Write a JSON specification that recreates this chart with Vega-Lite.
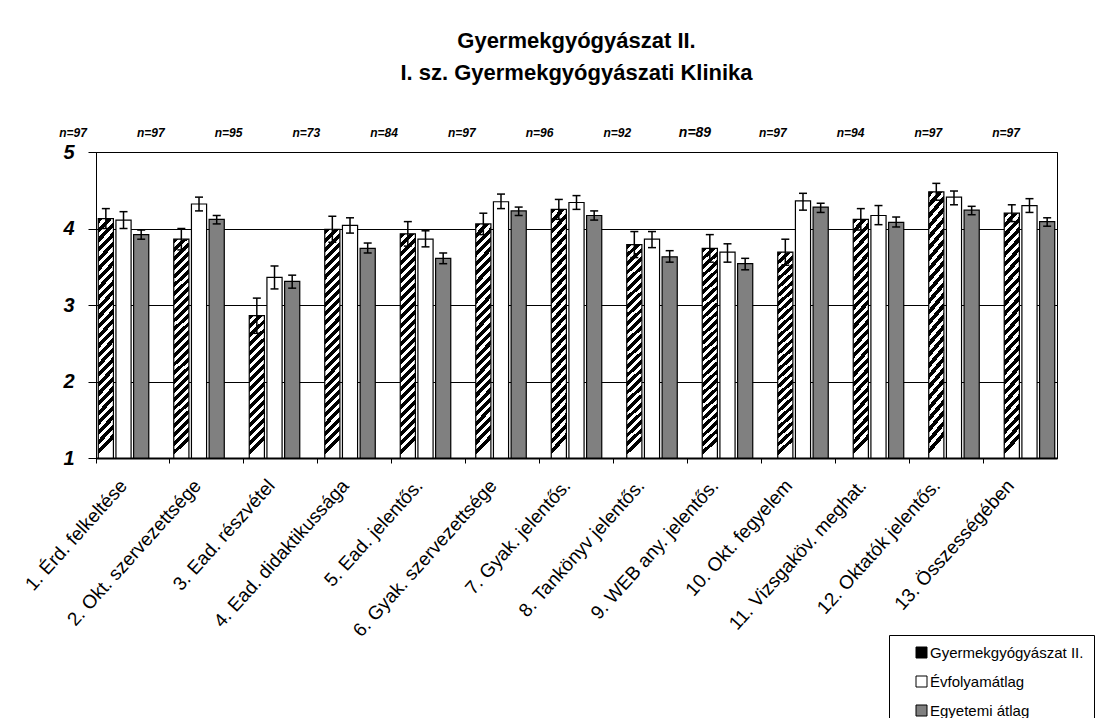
{
  "$schema": "https://vega.github.io/schema/vega-lite/v6.json",
  "width": 961,
  "height": 306,
  "autosize": {"type": "none"},
  "padding": {"left": 96, "top": 152, "right": 53, "bottom": 260},
  "background": "white",
  "title": {
    "text": ["Gyermekgyógyászat II.", "I. sz. Gyermekgyógyászati Klinika"],
    "font": "Liberation Sans",
    "fontSize": 22,
    "fontWeight": "bold",
    "color": "black",
    "anchor": "middle",
    "frame": "group",
    "lineHeight": 32,
    "offset": 41
  },
  "datasets": {
    "bars": [
      {"cat": "1. Érd. felkeltése", "series": "Gyermekgyógyászat II.", "value": 4.13, "lo": 4.0, "hi": 4.26},
      {"cat": "1. Érd. felkeltése", "series": "Évfolyamátlag", "value": 4.11, "lo": 4.0, "hi": 4.22},
      {"cat": "1. Érd. felkeltése", "series": "Egyetemi átlag", "value": 3.92, "lo": 3.86, "hi": 3.98},
      {"cat": "2. Okt. szervezettsége", "series": "Gyermekgyógyászat II.", "value": 3.86, "lo": 3.72, "hi": 4.0},
      {"cat": "2. Okt. szervezettsége", "series": "Évfolyamátlag", "value": 4.32, "lo": 4.23, "hi": 4.41},
      {"cat": "2. Okt. szervezettsége", "series": "Egyetemi átlag", "value": 4.12, "lo": 4.06, "hi": 4.17},
      {"cat": "3. Ead. részvétel", "series": "Gyermekgyógyászat II.", "value": 2.86, "lo": 2.63, "hi": 3.09},
      {"cat": "3. Ead. részvétel", "series": "Évfolyamátlag", "value": 3.36, "lo": 3.21, "hi": 3.51},
      {"cat": "3. Ead. részvétel", "series": "Egyetemi átlag", "value": 3.31, "lo": 3.22, "hi": 3.39},
      {"cat": "4. Ead. didaktikussága", "series": "Gyermekgyógyászat II.", "value": 3.99, "lo": 3.82, "hi": 4.16},
      {"cat": "4. Ead. didaktikussága", "series": "Évfolyamátlag", "value": 4.04, "lo": 3.94, "hi": 4.14},
      {"cat": "4. Ead. didaktikussága", "series": "Egyetemi átlag", "value": 3.74, "lo": 3.68, "hi": 3.81},
      {"cat": "5. Ead. jelentős.", "series": "Gyermekgyógyászat II.", "value": 3.93, "lo": 3.77, "hi": 4.09},
      {"cat": "5. Ead. jelentős.", "series": "Évfolyamátlag", "value": 3.86, "lo": 3.76, "hi": 3.97},
      {"cat": "5. Ead. jelentős.", "series": "Egyetemi átlag", "value": 3.61, "lo": 3.54, "hi": 3.68},
      {"cat": "6. Gyak. szervezettsége", "series": "Gyermekgyógyászat II.", "value": 4.06, "lo": 3.92, "hi": 4.2},
      {"cat": "6. Gyak. szervezettsége", "series": "Évfolyamátlag", "value": 4.35, "lo": 4.26, "hi": 4.45},
      {"cat": "6. Gyak. szervezettsége", "series": "Egyetemi átlag", "value": 4.23, "lo": 4.17, "hi": 4.28},
      {"cat": "7. Gyak. jelentős.", "series": "Gyermekgyógyászat II.", "value": 4.25, "lo": 4.12, "hi": 4.38},
      {"cat": "7. Gyak. jelentős.", "series": "Évfolyamátlag", "value": 4.34, "lo": 4.25, "hi": 4.43},
      {"cat": "7. Gyak. jelentős.", "series": "Egyetemi átlag", "value": 4.17, "lo": 4.11, "hi": 4.23},
      {"cat": "8. Tankönyv jelentős.", "series": "Gyermekgyógyászat II.", "value": 3.79, "lo": 3.62, "hi": 3.96},
      {"cat": "8. Tankönyv jelentős.", "series": "Évfolyamátlag", "value": 3.86, "lo": 3.75, "hi": 3.96},
      {"cat": "8. Tankönyv jelentős.", "series": "Egyetemi átlag", "value": 3.63, "lo": 3.56, "hi": 3.71},
      {"cat": "9. WEB any. jelentős.", "series": "Gyermekgyógyászat II.", "value": 3.74, "lo": 3.56, "hi": 3.92},
      {"cat": "9. WEB any. jelentős.", "series": "Évfolyamátlag", "value": 3.69, "lo": 3.56, "hi": 3.8},
      {"cat": "9. WEB any. jelentős.", "series": "Egyetemi átlag", "value": 3.54, "lo": 3.46, "hi": 3.61},
      {"cat": "10. Okt. fegyelem", "series": "Gyermekgyógyászat II.", "value": 3.69, "lo": 3.52, "hi": 3.86},
      {"cat": "10. Okt. fegyelem", "series": "Évfolyamátlag", "value": 4.36, "lo": 4.24, "hi": 4.46},
      {"cat": "10. Okt. fegyelem", "series": "Egyetemi átlag", "value": 4.28, "lo": 4.21, "hi": 4.33},
      {"cat": "11. Vizsgaköv. meghat.", "series": "Gyermekgyógyászat II.", "value": 4.12, "lo": 3.98, "hi": 4.26},
      {"cat": "11. Vizsgaköv. meghat.", "series": "Évfolyamátlag", "value": 4.17, "lo": 4.05, "hi": 4.3},
      {"cat": "11. Vizsgaköv. meghat.", "series": "Egyetemi átlag", "value": 4.08, "lo": 4.02, "hi": 4.15},
      {"cat": "12. Oktatók jelentős.", "series": "Gyermekgyógyászat II.", "value": 4.48, "lo": 4.37, "hi": 4.59},
      {"cat": "12. Oktatók jelentős.", "series": "Évfolyamátlag", "value": 4.41, "lo": 4.31, "hi": 4.49},
      {"cat": "12. Oktatók jelentős.", "series": "Egyetemi átlag", "value": 4.24, "lo": 4.18, "hi": 4.29},
      {"cat": "13. Összességében", "series": "Gyermekgyógyászat II.", "value": 4.2, "lo": 4.09, "hi": 4.31},
      {"cat": "13. Összességében", "series": "Évfolyamátlag", "value": 4.3, "lo": 4.21, "hi": 4.39},
      {"cat": "13. Összességében", "series": "Egyetemi átlag", "value": 4.09, "lo": 4.03, "hi": 4.14}
    ],
    "cats": [
      {"cat": "1. Érd. felkeltése", "n": "n=97"},
      {"cat": "2. Okt. szervezettsége", "n": "n=97"},
      {"cat": "3. Ead. részvétel", "n": "n=95"},
      {"cat": "4. Ead. didaktikussága", "n": "n=73"},
      {"cat": "5. Ead. jelentős.", "n": "n=84"},
      {"cat": "6. Gyak. szervezettsége", "n": "n=97"},
      {"cat": "7. Gyak. jelentős.", "n": "n=96"},
      {"cat": "8. Tankönyv jelentős.", "n": "n=92"},
      {"cat": "9. WEB any. jelentős.", "n": "n=89"},
      {"cat": "10. Okt. fegyelem", "n": "n=97"},
      {"cat": "11. Vizsgaköv. meghat.", "n": "n=94"},
      {"cat": "12. Oktatók jelentős.", "n": "n=97"},
      {"cat": "13. Összességében", "n": "n=97"}
    ]
  },
  "layer": [
    {
      "data": {"name": "bars"},
      "encoding": {
        "x": {"field": "cat", "type": "nominal", "sort": null, "scale": {"type": "band", "paddingInner": 0.331, "paddingOuter": 0.03}, "axis": null},
        "xOffset": {"field": "series", "type": "nominal", "sort": null, "scale": {"paddingInner": 0.143, "paddingOuter": 0}}
      },
      "layer": [
        {
          "mark": {"type": "bar", "stroke": "black", "strokeWidth": 1.2},
          "encoding": {
            "y": {
              "field": "value", "type": "quantitative", "title": null,
              "scale": {"domain": [1, 5], "nice": false, "zero": false},
              "axis": {
                "values": [1, 2, 3, 4, 5],
                "format": "d",
                "title": null,
                "labelFont": "Liberation Sans",
                "labelFontSize": 20,
                "labelFontWeight": "bold",
                "labelFontStyle": "italic",
                "labelColor": "black",
                "labelPadding": 14,
                "tickSize": 8,
                "tickColor": "black",
                "domainColor": "black",
                "grid": true,
                "gridColor": "black",
                "gridOpacity": 1,
                "gridWidth": 1
              }
            },
            "y2": {"datum": 1},
            "fill": {
              "field": "series",
              "type": "nominal",
              "scale": {"domain": ["Gyermekgyógyászat II.", "Évfolyamátlag", "Egyetemi átlag"], "range": ["#000000", "#ffffff", "#808080"]},
              "legend": {
                "title": null,
                "orient": "none",
                "legendX": 793,
                "legendY": 483,
                "padding": 10,
                "symbolOffset": 15,
                "strokeColor": "black",
                "fillColor": "white",
                "labelFont": "Liberation Sans",
                "labelFontSize": 15,
                "labelColor": "black",
                "labelOffset": 1,
                "labelLimit": 400,
                "symbolType": "square",
                "symbolSize": 121,
                "symbolStrokeColor": "black",
                "symbolStrokeWidth": 1,
                "rowPadding": 13
              },
              "condition": [
                {
                  "test": "datum.series === 'Gyermekgyógyászat II.' && datum.value < 3",
                  "value": {"gradient": "linear", "x1": 0, "y1": 0, "x2": 0.106, "y2": 1, "stops": [
                    {"offset": 0, "color": "#000"}, {"offset": 0.034, "color": "#000"}, {"offset": 0.034, "color": "#fff"}, {"offset": 0.0625, "color": "#fff"},
                    {"offset": 0.0625, "color": "#000"}, {"offset": 0.0965, "color": "#000"}, {"offset": 0.0965, "color": "#fff"}, {"offset": 0.125, "color": "#fff"},
                    {"offset": 0.125, "color": "#000"}, {"offset": 0.159, "color": "#000"}, {"offset": 0.159, "color": "#fff"}, {"offset": 0.1875, "color": "#fff"},
                    {"offset": 0.1875, "color": "#000"}, {"offset": 0.2215, "color": "#000"}, {"offset": 0.2215, "color": "#fff"}, {"offset": 0.25, "color": "#fff"},
                    {"offset": 0.25, "color": "#000"}, {"offset": 0.284, "color": "#000"}, {"offset": 0.284, "color": "#fff"}, {"offset": 0.3125, "color": "#fff"},
                    {"offset": 0.3125, "color": "#000"}, {"offset": 0.3465, "color": "#000"}, {"offset": 0.3465, "color": "#fff"}, {"offset": 0.375, "color": "#fff"},
                    {"offset": 0.375, "color": "#000"}, {"offset": 0.409, "color": "#000"}, {"offset": 0.409, "color": "#fff"}, {"offset": 0.4375, "color": "#fff"},
                    {"offset": 0.4375, "color": "#000"}, {"offset": 0.4715, "color": "#000"}, {"offset": 0.4715, "color": "#fff"}, {"offset": 0.5, "color": "#fff"},
                    {"offset": 0.5, "color": "#000"}, {"offset": 0.534, "color": "#000"}, {"offset": 0.534, "color": "#fff"}, {"offset": 0.5625, "color": "#fff"},
                    {"offset": 0.5625, "color": "#000"}, {"offset": 0.5965, "color": "#000"}, {"offset": 0.5965, "color": "#fff"}, {"offset": 0.625, "color": "#fff"},
                    {"offset": 0.625, "color": "#000"}, {"offset": 0.659, "color": "#000"}, {"offset": 0.659, "color": "#fff"}, {"offset": 0.6875, "color": "#fff"},
                    {"offset": 0.6875, "color": "#000"}, {"offset": 0.7215, "color": "#000"}, {"offset": 0.7215, "color": "#fff"}, {"offset": 0.75, "color": "#fff"},
                    {"offset": 0.75, "color": "#000"}, {"offset": 0.784, "color": "#000"}, {"offset": 0.784, "color": "#fff"}, {"offset": 0.8125, "color": "#fff"},
                    {"offset": 0.8125, "color": "#000"}, {"offset": 0.8465, "color": "#000"}, {"offset": 0.8465, "color": "#fff"}, {"offset": 0.875, "color": "#fff"},
                    {"offset": 0.875, "color": "#000"}, {"offset": 0.909, "color": "#000"}, {"offset": 0.909, "color": "#fff"}, {"offset": 0.9375, "color": "#fff"},
                    {"offset": 0.9375, "color": "#000"}, {"offset": 0.9715, "color": "#000"}, {"offset": 0.9715, "color": "#fff"}, {"offset": 1, "color": "#fff"}
                  ]}
                },
                {
                  "test": "datum.series === 'Gyermekgyógyászat II.'",
                  "value": {"gradient": "linear", "x1": 0, "y1": 0, "x2": 0.067, "y2": 1, "stops": [
                    {"offset": 0, "color": "#000"}, {"offset": 0.022, "color": "#000"}, {"offset": 0.022, "color": "#fff"}, {"offset": 0.04, "color": "#fff"},
                    {"offset": 0.04, "color": "#000"}, {"offset": 0.062, "color": "#000"}, {"offset": 0.062, "color": "#fff"}, {"offset": 0.08, "color": "#fff"},
                    {"offset": 0.08, "color": "#000"}, {"offset": 0.102, "color": "#000"}, {"offset": 0.102, "color": "#fff"}, {"offset": 0.12, "color": "#fff"},
                    {"offset": 0.12, "color": "#000"}, {"offset": 0.142, "color": "#000"}, {"offset": 0.142, "color": "#fff"}, {"offset": 0.16, "color": "#fff"},
                    {"offset": 0.16, "color": "#000"}, {"offset": 0.182, "color": "#000"}, {"offset": 0.182, "color": "#fff"}, {"offset": 0.2, "color": "#fff"},
                    {"offset": 0.2, "color": "#000"}, {"offset": 0.222, "color": "#000"}, {"offset": 0.222, "color": "#fff"}, {"offset": 0.24, "color": "#fff"},
                    {"offset": 0.24, "color": "#000"}, {"offset": 0.262, "color": "#000"}, {"offset": 0.262, "color": "#fff"}, {"offset": 0.28, "color": "#fff"},
                    {"offset": 0.28, "color": "#000"}, {"offset": 0.302, "color": "#000"}, {"offset": 0.302, "color": "#fff"}, {"offset": 0.32, "color": "#fff"},
                    {"offset": 0.32, "color": "#000"}, {"offset": 0.342, "color": "#000"}, {"offset": 0.342, "color": "#fff"}, {"offset": 0.36, "color": "#fff"},
                    {"offset": 0.36, "color": "#000"}, {"offset": 0.382, "color": "#000"}, {"offset": 0.382, "color": "#fff"}, {"offset": 0.4, "color": "#fff"},
                    {"offset": 0.4, "color": "#000"}, {"offset": 0.422, "color": "#000"}, {"offset": 0.422, "color": "#fff"}, {"offset": 0.44, "color": "#fff"},
                    {"offset": 0.44, "color": "#000"}, {"offset": 0.462, "color": "#000"}, {"offset": 0.462, "color": "#fff"}, {"offset": 0.48, "color": "#fff"},
                    {"offset": 0.48, "color": "#000"}, {"offset": 0.502, "color": "#000"}, {"offset": 0.502, "color": "#fff"}, {"offset": 0.52, "color": "#fff"},
                    {"offset": 0.52, "color": "#000"}, {"offset": 0.542, "color": "#000"}, {"offset": 0.542, "color": "#fff"}, {"offset": 0.56, "color": "#fff"},
                    {"offset": 0.56, "color": "#000"}, {"offset": 0.582, "color": "#000"}, {"offset": 0.582, "color": "#fff"}, {"offset": 0.6, "color": "#fff"},
                    {"offset": 0.6, "color": "#000"}, {"offset": 0.622, "color": "#000"}, {"offset": 0.622, "color": "#fff"}, {"offset": 0.64, "color": "#fff"},
                    {"offset": 0.64, "color": "#000"}, {"offset": 0.662, "color": "#000"}, {"offset": 0.662, "color": "#fff"}, {"offset": 0.68, "color": "#fff"},
                    {"offset": 0.68, "color": "#000"}, {"offset": 0.702, "color": "#000"}, {"offset": 0.702, "color": "#fff"}, {"offset": 0.72, "color": "#fff"},
                    {"offset": 0.72, "color": "#000"}, {"offset": 0.742, "color": "#000"}, {"offset": 0.742, "color": "#fff"}, {"offset": 0.76, "color": "#fff"},
                    {"offset": 0.76, "color": "#000"}, {"offset": 0.782, "color": "#000"}, {"offset": 0.782, "color": "#fff"}, {"offset": 0.8, "color": "#fff"},
                    {"offset": 0.8, "color": "#000"}, {"offset": 0.822, "color": "#000"}, {"offset": 0.822, "color": "#fff"}, {"offset": 0.84, "color": "#fff"},
                    {"offset": 0.84, "color": "#000"}, {"offset": 0.862, "color": "#000"}, {"offset": 0.862, "color": "#fff"}, {"offset": 0.88, "color": "#fff"},
                    {"offset": 0.88, "color": "#000"}, {"offset": 0.902, "color": "#000"}, {"offset": 0.902, "color": "#fff"}, {"offset": 0.92, "color": "#fff"},
                    {"offset": 0.92, "color": "#000"}, {"offset": 0.942, "color": "#000"}, {"offset": 0.942, "color": "#fff"}, {"offset": 0.96, "color": "#fff"},
                    {"offset": 0.96, "color": "#000"}, {"offset": 0.982, "color": "#000"}, {"offset": 0.982, "color": "#fff"}, {"offset": 1, "color": "#fff"}
                  ]}
                }
              ]
            }
          }
        },
        {
          "mark": {"type": "rule", "color": "black", "strokeWidth": 1.5},
          "encoding": {
            "y": {"field": "lo", "type": "quantitative", "title": null},
            "y2": {"field": "hi"}
          }
        },
        {
          "mark": {"type": "tick", "color": "black", "thickness": 1.5, "size": 8, "opacity": 1},
          "encoding": {"y": {"field": "lo", "type": "quantitative", "title": null}}
        },
        {
          "mark": {"type": "tick", "color": "black", "thickness": 1.5, "size": 8, "opacity": 1},
          "encoding": {"y": {"field": "hi", "type": "quantitative", "title": null}}
        }
      ]
    },
    {
      "data": {"name": "cats"},
      "mark": {"type": "text"},
      "encoding": {
        "x": {
          "field": "cat", "type": "nominal", "sort": null,
          "scale": {"type": "band", "paddingInner": 0, "paddingOuter": 0},
          "axis": {
            "orient": "bottom",
            "title": null,
            "bandPosition": 0,
            "labelAngle": -48,
            "labelAlign": "right",
            "labelBaseline": "top",
            "labelFont": "Liberation Sans",
            "labelFontSize": 19,
            "labelColor": "black",
            "labelPadding": 13,
            "labelOffset": -16,
            "labelOverlap": false,
            "labelBound": false,
            "labelLimit": 400,
            "tickSize": 5,
            "tickColor": "black",
            "tickWidth": 1,
            "domain": true,
            "domainColor": "black",
            "domainWidth": 2,
            "grid": false
          }
        },
        "text": {"value": ""}
      }
    },
    {
      "data": {"name": "cats"},
      "mark": {"type": "text", "font": "Liberation Sans", "fontWeight": "bold", "fontStyle": "italic", "baseline": "alphabetic", "align": "center", "dx": -37, "dy": -15, "color": "black"},
      "encoding": {
        "x": {"field": "cat", "type": "nominal", "sort": null, "scale": {"type": "point", "padding": 0.18}, "axis": null},
        "y": {"datum": 5, "type": "quantitative"},
        "text": {"field": "n"},
        "size": {"condition": {"test": "datum.n === 'n=89'", "value": 14}, "value": 12}
      }
    }
  ],
  "resolve": {"scale": {"x": "independent"}},
  "config": {
    "view": {"stroke": "black", "strokeWidth": 1}
  }
}
